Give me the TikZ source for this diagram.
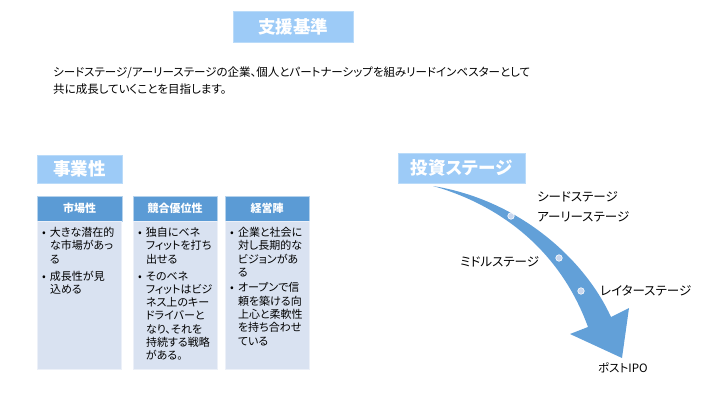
\documentclass[tikz,border=0pt]{standalone}
\usepackage{fontspec}
\setmainfont{Noto Sans CJK JP}[RawFeature=+palt]
\usetikzlibrary{positioning}
\definecolor{titlebg}{HTML}{9DCBF7}
\definecolor{hdrbg}{HTML}{5B9BD5}
\definecolor{bodybg}{HTML}{D9E2F1}
\definecolor{arrowbg}{HTML}{62A0D8}
\definecolor{dotbg}{HTML}{C9D7EE}
\newcommand{\bul}{\makebox[8pt][l]{•}}
\newcommand{\ind}{\hspace*{8pt}}

\begin{document}
\begin{tikzpicture}[x=1pt,y=-1pt,
    titlebox/.style={fill=titlebg, draw=titlebg!70!white, text=white, inner sep=0pt,
      font=\bfseries\fontsize{17.5}{20}\selectfont},
    hdrbox/.style={fill=hdrbg, draw=hdrbg!45!white, text=white, inner sep=0pt,
      minimum height=25pt, font=\bfseries\fontsize{11}{13}\selectfont},
    bodybox/.style={fill=bodybg, draw=bodybg!50!white, inner sep=0pt, minimum height=148pt},
    bultext/.style={align=left, inner sep=0pt, font=\fontsize{11}{13.3}\selectfont},
    stagelbl/.style={anchor=west, inner sep=0pt, font=\fontsize{12.5}{14}\selectfont},
    stagedot/.style={circle, fill=dotbg, draw=white, line width=0.6pt, inner sep=0pt, minimum size=6.5pt}]
  \useasboundingbox (0,0) rectangle (720,405);

  % titles
  \node[titlebox, minimum width=120pt, minimum height=31pt] (title) at (293,26.5) {支援基準};
  \node[anchor=west, align=left, inner sep=0pt, font=\fontsize{11.5}{17}\selectfont] (intro) at (53,80.5)
    {シードステージ/アーリーステージの企業、個人とパートナーシップを組みリードインベスターとして\\
     共に成長していくことを目指します。};
  \node[titlebox, minimum width=85pt, minimum height=28pt] (biz) at (79.5,169) {事業性};
  \node[titlebox, minimum width=127pt, minimum height=30pt] (inv) at (461.5,168) {投資ステージ};

  % criteria columns
  \node[hdrbox, minimum width=85pt] (market) at (79.5,208.5) {市場性};
  \node[hdrbox, minimum width=84pt] (edge) at (175,208.5) {競合優位性};
  \node[hdrbox, minimum width=84pt] (team) at (267,208.5) {経営陣};
  \foreach \c in {market,edge,team}
    \node[bodybox, minimum width=84pt, below=0pt of \c] (\c-body) {};

  \node[bultext, below right=6pt and 5pt of market.south west] (market-txt)
    {\bul 大きな潜在的\\\ind な市場があっ\\\ind る\\[3.5pt]
     \bul 成長性が見\\\ind 込める};
  \node[bultext, below right=6pt and 5pt of edge.south west] (edge-txt)
    {\bul 独自にベネ\\\ind フィットを打ち\\\ind 出せる\\[3.5pt]
     \bul そのベネ\\\ind フィットはビジ\\\ind ネス上のキー\\\ind ドライバーと\\\ind なり、それを\\\ind 持続する戦略\\\ind がある。};
  \node[bultext, below right=6pt and 5pt of team.south west] (team-txt)
    {\bul 企業と社会に\\\ind 対し長期的な\\\ind ビジョンがあ\\\ind る\\[2pt]
     \bul オープンで信\\\ind 頼を築ける向\\\ind 上心と柔軟性\\\ind を持ち合わせ\\\ind ている};

  % stage arrow
  \fill[arrowbg] (433,186) .. controls (520,200) and (585,260) .. (611,317)
    -- (629,308) -- (622,358) -- (570,334) -- (588,327)
    .. controls (560,250) and (500,205) .. cycle;
  \node[stagedot] (early-dot) at (511,216) {};
  \node[stagedot] (middle-dot) at (559,258) {};
  \node[stagedot] (later-dot) at (581,291) {};

  \node[stagelbl] (seed) at (537,197) {シードステージ};
  \node[stagelbl] (early) at (537,217) {アーリーステージ};
  \node[stagelbl] (middle) at (460,262) {ミドルステージ};
  \node[stagelbl] (later) at (600,291) {レイターステージ};
  \node[stagelbl, font=\fontsize{11.5}{14}\selectfont] (post) at (598,368) {ポストIPO};
\end{tikzpicture}
\end{document}
